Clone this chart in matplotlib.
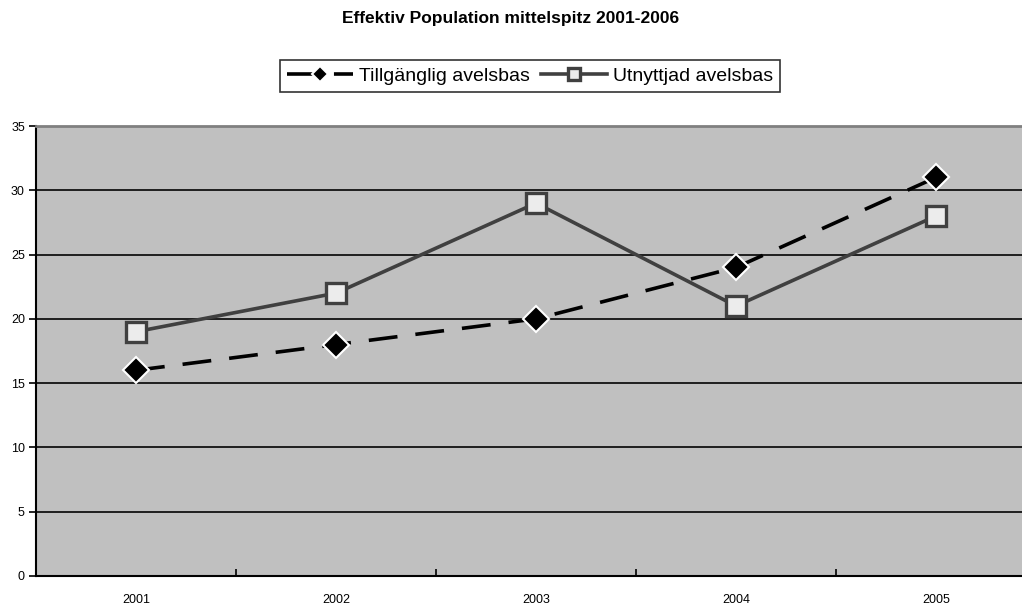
import matplotlib.pyplot as plt

years = ['2001', '2002', '2003', '2004', '2005']
tillganglig = [16, 18, 20, 24, 31]
utnyttjad = [19, 22, 29, 21, 28]
yticks = [0, 5, 10, 15, 20, 25, 30, 35]

plt.rcParams['font.family'] = ['Liberation Sans', 'DejaVu Sans']

fig = plt.figure(figsize=(10.22, 6.05), dpi=100)
ax = fig.add_axes([36 / 1022, 29 / 605, 1000 / 1022, 450 / 605])
ax.set_facecolor('#c0c0c0')

x = list(range(len(years)))
ax.plot(x, utnyttjad, color='#404040', lw=2.6, marker='s', ms=14,
        mfc='#ececec', mec='#404040', mew=2.4, label='Utnyttjad avelsbas', zorder=3)
ax.plot(x, tillganglig, color='black', lw=2.6, ls=(0, (8, 5)), marker='D', ms=13,
        mfc='black', mec='white', mew=1.5, label='Tillgänglig avelsbas', zorder=4)

ax.set_xlim(-0.5, 4.5)
ax.set_ylim(0, 35)
ax.set_yticks(yticks)
ax.set_yticklabels([str(v) for v in yticks], fontsize=9)
ax.set_xticks([i + 0.5 for i in range(-1, len(years))])
ax.set_xticklabels([])
ax.set_xticks(x, minor=True)
ax.set_xticklabels(years, minor=True, fontsize=9)
ax.tick_params(axis='x', which='minor', length=0, pad=13)
ax.tick_params(axis='x', which='major', length=5, width=1.2, direction='in')
ax.tick_params(axis='y', length=5, width=1.2, direction='out', pad=3)
ax.grid(axis='y', color='#111111', lw=1.3)
ax.set_axisbelow(True)

ax.spines['top'].set_color('#808080')
ax.spines['top'].set_linewidth(2)
ax.spines['right'].set_visible(False)
ax.spines['left'].set_linewidth(1.5)
ax.spines['bottom'].set_linewidth(1.5)

fig.text(0.5, 1 - 18 / 605, 'Effektiv Population mittelspitz 2001-2006',
         ha='center', va='center', fontsize=12.5, fontweight='bold')

h, l = ax.get_legend_handles_labels()
leg = fig.legend(h[::-1], l[::-1], loc='center', bbox_to_anchor=(530 / 1022, 1 - 76 / 605),
                 ncol=2, frameon=True, fancybox=False, edgecolor='black', markerscale=0.6,
                 handlelength=3.4, columnspacing=0.6, handletextpad=0.3, borderpad=0.35,
                 prop={'size': 14})
leg.get_frame().set_linewidth(1.2)

fig.savefig('out.png', dpi=100)
